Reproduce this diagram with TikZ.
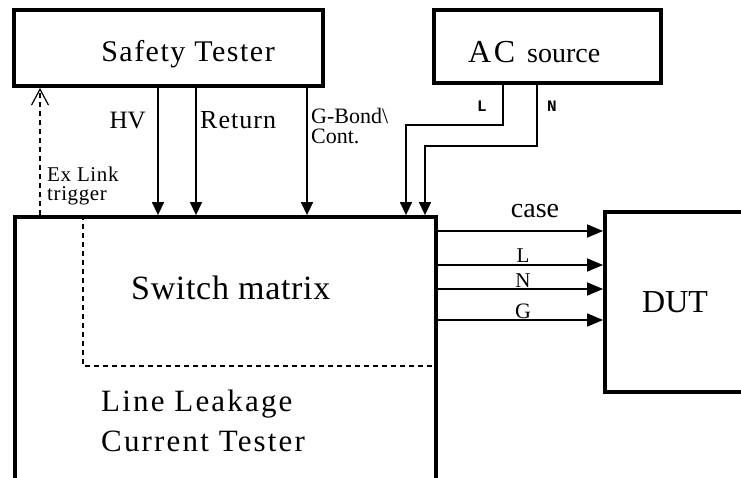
\documentclass[tikz,border=0pt]{standalone}
\usepackage{fontspec}
\setmainfont{Liberation Serif}
\setmonofont{Liberation Mono}
\usetikzlibrary{arrows.meta}
\newcommand{\fsz}[1]{\fontsize{#1}{#1}\selectfont}
\begin{document}
\begin{tikzpicture}[x=1pt,y=-1pt,
  box/.style={draw,line width=3.8pt,inner sep=0pt},
  wire/.style={line width=1.4pt},
  arr/.style={wire,-{Triangle[length=13pt,width=12pt]}},
  rarr/.style={wire,-{Triangle[length=16pt,width=13pt]}},
  dline/.style={line width=1.2pt,dash pattern=on 5pt off 4pt},
  lbl/.style={inner sep=0pt}]
\useasboundingbox (0,0) rectangle (741,477);
\clip (0,0) rectangle (741,477);

% boxes
\node[box,minimum width=309pt,minimum height=76pt] (st) at (168.5,48) {};
\node[box,minimum width=227pt,minimum height=73pt] (ac) at (547.5,46.5) {};
\node[box,minimum width=421pt,minimum height=263pt] (mb) at (225.5,348.5) {};
\node[box,minimum width=145pt,minimum height=180pt] (dut) at (677.5,302) {};

% box texts
\node[lbl,anchor=base,font={\fsz{30}\addfontfeature{LetterSpace=5}}] (tst) at (188,61) {Safety Tester};
\node[lbl,anchor=base west,font={\fsz{32}\addfontfeature{LetterSpace=8}}] (tac) at (468,62) {AC};
\node[lbl,anchor=base west,font=\fsz{28}] (tsrc) at (527,62) {source};
\node[lbl,anchor=base west,font={\fsz{34}\addfontfeature{LetterSpace=2}}] (tsw) at (131,299) {Switch matrix};
\node[lbl,anchor=base west,font={\fsz{31}\addfontfeature{LetterSpace=7}}] (tll) at (101,411) {Line Leakage};
\node[lbl,anchor=base west,font={\fsz{31}\addfontfeature{LetterSpace=7}}] (tct) at (101,451) {Current Tester};
\node[lbl,anchor=base west,font={\fsz{32}}] (tdut) at (642,312) {DUT};

% coordinates for connector positions
\coordinate (xhv) at (158,0);
\coordinate (xret) at (196,0);
\coordinate (xgb) at (307,0);
\coordinate (xl) at (406,0);
\coordinate (xn) at (425,0);
\coordinate (xacl) at (503,0);
\coordinate (xacn) at (537,0);
\coordinate (yl) at (0,125);
\coordinate (yn) at (0,146);
\coordinate (xtr) at (40,0);
\coordinate (xsm) at (83,0);
\coordinate (ysm) at (0,366);
\coordinate (ycase) at (0,231);
\coordinate (yL) at (0,265);
\coordinate (yN) at (0,289);
\coordinate (yG) at (0,320);

% safety tester wires
\draw[arr] (st.south -| xhv) -- (mb.north -| xhv);
\draw[arr] (st.south -| xret) -- (mb.north -| xret);
\draw[arr] (st.south -| xgb) -- (mb.north -| xgb);

% AC source wires
\draw[arr] (ac.south -| xacl) -- (xacl |- yl) -- (xl |- yl) -- (mb.north -| xl);
\draw[arr] (ac.south -| xacn) -- (xacn |- yn) -- (xn |- yn) -- (mb.north -| xn);

% ex link trigger
\draw[dline,-{Straight Barb[length=16pt,width=17pt,line width=1.2pt]}] (mb.north -| xtr) -- (st.south -| xtr);

% switch matrix dashed outline
\draw[dline] (mb.north -| xsm) -- (xsm |- ysm) -- (mb.east |- ysm);

% DUT wires
\draw[rarr] (mb.east |- ycase) -- (dut.west |- ycase);
\draw[rarr] (mb.east |- yL) -- (dut.west |- yL);
\draw[rarr] (mb.east |- yN) -- (dut.west |- yN);
\draw[rarr] (mb.east |- yG) -- (dut.west |- yG);

% labels
\node[lbl,anchor=base east,font=\fsz{25}] (lhv) at (146,128) {HV};
\node[lbl,anchor=base west,font={\fsz{26}\addfontfeature{LetterSpace=4}}] (lret) at (200,128) {Return};
\node[lbl,anchor=north west,align=left,font={\fontsize{22}{20}\selectfont}] (lgb) at (311,108) {G-Bond\textbackslash\\Cont.};
\node[lbl,anchor=north west,align=left,font={\fontsize{21}{19}\selectfont\addfontfeature{LetterSpace=3}}] (lex) at (47,167) {Ex Link\\trigger};
\node[lbl,anchor=base,font=\ttfamily\bfseries\fsz{16}] (lacl) at (482,111) {L};
\node[lbl,anchor=base,font=\ttfamily\bfseries\fsz{16}] (lacn) at (552,111) {N};
\node[lbl,anchor=base,font=\fsz{28}] (lcase) at (535,217) {case};
\node[lbl,anchor=base,font=\fsz{21}] (lL) at (523,262) {L};
\node[lbl,anchor=base,font=\fsz{21}] (lN) at (523,287) {N};
\node[lbl,anchor=base,font=\fsz{22}] (lG) at (523,318) {G};
\end{tikzpicture}
\end{document}
